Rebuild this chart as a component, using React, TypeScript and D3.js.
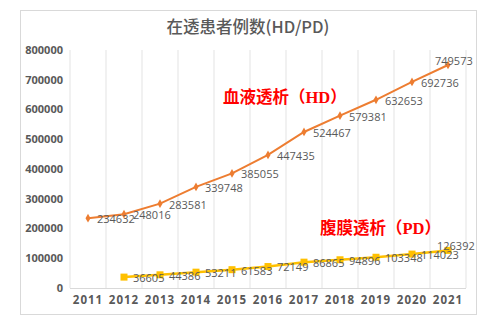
import React from "react";
import * as d3 from "d3";

const years = ["2011","2012","2013","2014","2015","2016","2017","2018","2019","2020","2021"];
const hdValues = [234632,248016,283581,339748,385055,447435,524467,579381,632653,692736,749573];
const pdYears = ["2012","2013","2014","2015","2016","2017","2018","2019","2020","2021"];
const pdValues = [36605,44386,53211,61583,72149,86865,94896,103348,114023,126392];
const yTicks = [0,100000,200000,300000,400000,500000,600000,700000,800000];

export default function App() {
  const W = 494, H = 327;
  const x = d3.scaleBand().domain(years).range([70, 466]);
  const y = d3.scaleLinear().domain([0, 800000]).range([288, 50]);
  const cx = (yr: string) => (x(yr) as number) + x.bandwidth() / 2;
  const line = d3.line<[string, number]>().x(d => cx(d[0])).y(d => y(d[1]));
  const hd: [string, number][] = years.map((yr, i) => [yr, hdValues[i]]);
  const pd: [string, number][] = pdYears.map((yr, i) => [yr, pdValues[i]]);
  const diamond = d3.symbol().type(d3.symbolDiamond).size(22)() as string;
  const gray = "#595959";
  const bounds = [...years.map(yr => x(yr) as number), 466];
  return (
    <svg width={W} height={H} style={{ position: "absolute", left: 0, top: 0, background: "#fff" }}>
      <rect x={20.5} y={10.5} width={456} height={304} fill="#fff" stroke="#d9d9d9" strokeWidth={1} />
      <text x={248} y={33} textAnchor="middle" fontFamily="'Noto Sans CJK SC', sans-serif" fontWeight={500} fontSize={16.5} fill={gray}>在透患者例数(HD/PD)</text>
      {bounds.map((b, i) => (
        <line key={i} x1={b} x2={b} y1={50} y2={288} stroke="#e3e3e3" strokeWidth={1} />
      ))}
      <line x1={70} x2={466} y1={288.5} y2={288.5} stroke="#d9d9d9" strokeWidth={1} />
      {yTicks.map(t => (
        <text key={t} x={63} y={y(t)} dy="0.35em" textAnchor="end" fontFamily="'Open Sans', sans-serif" fontWeight="bold" fontSize={11} fill={gray}>{t}</text>
      ))}
      {years.map(yr => (
        <text key={yr} x={cx(yr)} y={304} textAnchor="middle" fontFamily="'Open Sans', sans-serif" fontWeight="bold" fontSize={11.5} letterSpacing={1} fill={gray}>{yr}</text>
      ))}
      <path d={line(hd) as string} fill="none" stroke="#ED7D31" strokeWidth={2} />
      {hd.map(d => (
        <path key={d[0]} d={diamond} transform={`translate(${cx(d[0])},${y(d[1])})`} fill="#ED7D31" />
      ))}
      <path d={line(pd) as string} fill="none" stroke="#FFC000" strokeWidth={2.5} />
      {pd.map(d => (
        <rect key={d[0]} x={cx(d[0]) - 3.5} y={y(d[1]) - 3.5} width={7} height={7} fill="#FFC000" />
      ))}
      {hd.map((d, i) => {
        const last = i === hd.length - 1;
        return (
          <text key={d[0]} x={last ? cx(d[0]) - 13 : cx(d[0]) + 9} y={y(d[1])} dy={last ? "0" : "0.45em"} fontFamily="'Open Sans', sans-serif" fontSize={11} fill={gray}>{d[1]}</text>
        );
      })}
      {pd.map((d, i) => {
        const last = i === pd.length - 1;
        return (
          <text key={d[0]} x={last ? cx(d[0]) - 11 : cx(d[0]) + 9} y={y(d[1])} dy={last ? "-0.05em" : "0.45em"} fontFamily="'Open Sans', sans-serif" fontSize={11} fill={gray}>{d[1]}</text>
        );
      })}
      <text x={223} y={103} fontFamily="'Liberation Serif', 'Noto Sans CJK SC', serif" fontWeight="bold" fontSize={16.5} fill="#ff0000">血液透析（HD）</text>
      <text x={320} y={234} fontFamily="'Liberation Serif', 'Noto Sans CJK SC', serif" fontWeight="bold" fontSize={16.5} fill="#ff0000">腹膜透析（PD）</text>
    </svg>
  );
}
